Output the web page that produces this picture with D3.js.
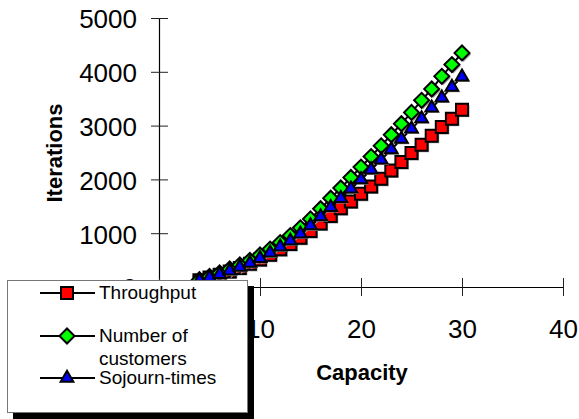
<!DOCTYPE html>
<html>
<head>
<meta charset="utf-8">
<script src="https://cdn.jsdelivr.net/npm/d3@7"></script>
<style>
body { margin: 0; background: #fff; }
</style>
</head>
<body>
<svg id="svg-main" width="579" height="419"></svg>
<script>
// values
var capacity = [4, 5, 6, 7, 8, 9, 10, 11, 12, 13, 14, 15, 16, 17, 18, 19, 20, 21, 22, 23, 24, 25, 26, 27, 28, 29, 30];
var throughput = [125, 175, 230, 290, 355, 430, 510, 600, 700, 800, 915, 1040, 1180, 1320, 1466, 1590, 1732, 1868, 2011, 2166, 2322, 2490, 2644, 2812, 2974, 3128, 3296];
var customers = [135, 195, 260, 335, 410, 495, 595, 705, 825, 955, 1100, 1265, 1455, 1650, 1840, 2035, 2230, 2425, 2625, 2830, 3035, 3245, 3470, 3680, 3915, 4135, 4350];
var sojourn = [120, 175, 235, 300, 370, 445, 535, 635, 745, 860, 990, 1140, 1310, 1480, 1650, 1825, 1995, 2180, 2365, 2555, 2750, 2940, 3130, 3330, 3515, 3715, 3905];
var xTicks = [0, 10, 20, 30, 40];
var yTicks = [0, 1000, 2000, 3000, 4000, 5000];
var seriesNames = ["Throughput", "Number of customers", "Sojourn-times"];
var seriesColors = ["#ff0000", "#00ff00", "#0000ff"];

var font = "'Liberation Sans', Arial, Helvetica, sans-serif";
var svg = d3.select("#svg-main");

var x = d3.scaleLinear().domain([0, 40]).range([159, 563]);
var y = d3.scaleLinear().domain([0, 5000]).range([287, 18]);

// symbols: square, diamond (rotated square), triangle
function symbolPath(i) {
    if (i == 0) return d3.symbol().type(d3.symbolSquare).size(144)();
    if (i == 1) return d3.symbol().type(d3.symbolSquare).size(112)();
    return d3.symbol().type(d3.symbolTriangle).size(70)();
}
function symbolRot(i) {
    return i == 1 ? " rotate(45)" : "";
}

// y axis
var yAxis = svg.append("g")
    .attr("transform", "translate(" + x(0) + ",0)")
    .call(d3.axisLeft(y).tickValues(yTicks).tickFormat(d3.format("d"))
        .tickSizeInner(8).tickSizeOuter(0).tickPadding(14));
yAxis.select(".domain").attr("stroke", "#000").attr("stroke-width", 1.2);
yAxis.selectAll(".tick line").attr("x1", 9).attr("x2", -8).attr("stroke", "#222").attr("stroke-width", 1);
yAxis.selectAll(".tick text")
    .attr("font-family", font).attr("font-size", "26px").attr("fill", "#000")
    .attr("dy", "0.38em");

// x axis
var xAxis = svg.append("g")
    .attr("transform", "translate(0," + y(0) + ")")
    .call(d3.axisBottom(x).tickValues(xTicks).tickFormat(d3.format("d"))
        .tickSizeInner(9).tickSizeOuter(0));
xAxis.select(".domain").attr("stroke", "#000").attr("stroke-width", 1.2);
xAxis.selectAll(".tick line").attr("y1", -9).attr("y2", 9).attr("stroke", "#222").attr("stroke-width", 1);
xAxis.selectAll(".tick text")
    .attr("font-family", font).attr("font-size", "26px").attr("fill", "#000")
    .attr("y", 51).attr("dy", 0);

// axis titles
svg.append("text")
    .attr("transform", "translate(62,153) rotate(-90)")
    .attr("text-anchor", "middle")
    .attr("font-family", font).attr("font-weight", "bold").style("font-size", "22px")
    .text("Iterations");

svg.append("text")
    .attr("x", 362).attr("y", 380)
    .attr("text-anchor", "middle")
    .attr("font-family", font).attr("font-weight", "bold").style("font-size", "22px")
    .text("Capacity");

// series
var allSeries = [throughput, customers, sojourn];
var line = d3.line()
    .x(function(d) { return x(d[0]); })
    .y(function(d) { return y(d[1]); });

allSeries.forEach(function(vals, i) {
    var pts = capacity.map(function(c, k) { return [c, vals[k]]; });
    svg.append("path")
        .datum(pts)
        .attr("fill", "none")
        .attr("stroke", "#000")
        .attr("stroke-width", 2)
        .attr("d", line);
    var g = svg.append("g");
    g.selectAll("path.shadow")
        .data(pts).enter()
        .append("path")
        .attr("class", "shadow")
        .attr("d", symbolPath(i))
        .attr("transform", function(d) { return "translate(" + (x(d[0]) + 1.5) + "," + (y(d[1]) + 1.5) + ")" + symbolRot(i); })
        .attr("fill", "#999");
    g.selectAll("path.mark")
        .data(pts).enter()
        .append("path")
        .attr("class", "mark")
        .attr("d", symbolPath(i))
        .attr("transform", function(d) { return "translate(" + x(d[0]) + "," + y(d[1]) + ")" + symbolRot(i); })
        .attr("fill", seriesColors[i])
        .attr("stroke", "#000")
        .attr("stroke-width", 2);
});

// legend box with shadow (covers the bottom-left corner of the plot, as in the original)
svg.append("rect")
    .attr("x", 13).attr("y", 286).attr("width", 241).attr("height", 133)
    .attr("fill", "#000");
svg.append("rect")
    .attr("x", 7.5).attr("y", 280.5).attr("width", 240).attr("height", 132)
    .attr("fill", "#fff").attr("stroke", "#777").attr("stroke-width", 1);

var legendY = [293, 336, 378];
seriesNames.forEach(function(name, i) {
    svg.append("line")
        .attr("x1", 40).attr("x2", 95)
        .attr("y1", legendY[i]).attr("y2", legendY[i])
        .attr("stroke", "#000").attr("stroke-width", 2);
    svg.append("path")
        .attr("d", symbolPath(i))
        .attr("transform", "translate(67," + legendY[i] + ")" + symbolRot(i))
        .attr("fill", seriesColors[i])
        .attr("stroke", "#000")
        .attr("stroke-width", 2);
});

svg.append("text")
    .attr("x", 99).attr("y", 299)
    .attr("font-family", font).style("font-size", "19px")
    .text("Throughput");
svg.append("text")
    .attr("x", 99).attr("y", 342)
    .attr("font-family", font).style("font-size", "19px")
    .text("Number of");
svg.append("text")
    .attr("x", 99).attr("y", 365)
    .attr("font-family", font).style("font-size", "19px")
    .text("customers");
svg.append("text")
    .attr("x", 99).attr("y", 384)
    .attr("font-family", font).style("font-size", "19px")
    .text("Sojourn-times");
</script>
</body>
</html>
